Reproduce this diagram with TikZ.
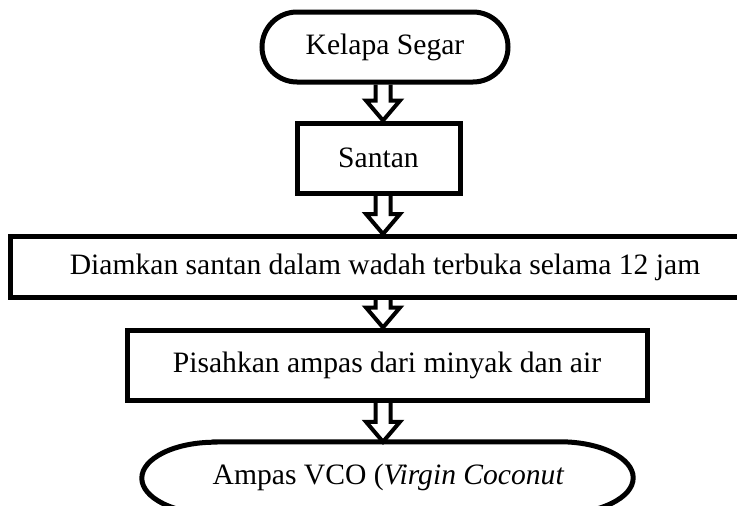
\documentclass[tikz,border=0pt]{standalone}
\usepackage{fontspec}
\setmainfont{Liberation Serif}
\usetikzlibrary{calc}
\newcommand{\blockarr}[2]{%
  \draw[flow] let \p1=(ax |- #1.south), \p2=(ax |- #2.north) in
    (\x1-7.5pt,\y1) -- (\x1-7.5pt,\y2+20pt) -- (\x1-17pt,\y2+20pt) -- (\x2,\y2)
    -- (\x1+17pt,\y2+20pt) -- (\x1+7.5pt,\y2+20pt) -- (\x1+7.5pt,\y1);}
\begin{document}
\begin{tikzpicture}[x=1pt,y=-1pt,
  txt/.style={font=\fontsize{29.6}{34}\selectfont, inner sep=0pt},
  boxnode/.style={txt, draw, line width=5pt, rectangle},
  flow/.style={line width=4pt, line join=miter}]
\clip (0,0) rectangle (737,506);
\fill[white] (0,0) rectangle (737,506);
\coordinate (ax) at (383,0);
\node[boxnode, rounded corners=35pt, minimum width=246pt, minimum height=70pt] (kelapa) at (385,47) {Kelapa Segar};
\node[boxnode, minimum width=163pt, minimum height=70pt] (santan) at (378.5,158) {Santan};
\node[boxnode, minimum width=750pt, minimum height=61pt] (diam) at (385,267) {Diamkan santan dalam wadah terbuka selama 12 jam};
\node[boxnode, minimum width=520pt, minimum height=70pt] (pisah) at (387,365) {Pisahkan ampas dari minyak dan air};
\node[inner sep=0pt, minimum width=491pt, minimum height=72pt] (term) at (387.5,478) {};
\draw[line width=5pt] ($(term.north west)+(73,0)$) -- ($(term.north east)+(-73,0)$)
  arc[start angle=-90,end angle=90,x radius=73,y radius=36]
  -- ($(term.south west)+(73,0)$)
  arc[start angle=90,end angle=270,x radius=73,y radius=36] -- cycle;
\node[txt] (ampas) at (388.5,477) {Ampas VCO (\textit{Virgin Coconut}};
\blockarr{kelapa}{santan}
\blockarr{santan}{diam}
\blockarr{diam}{pisah}
\blockarr{pisah}{term}
\end{tikzpicture}
\end{document}
